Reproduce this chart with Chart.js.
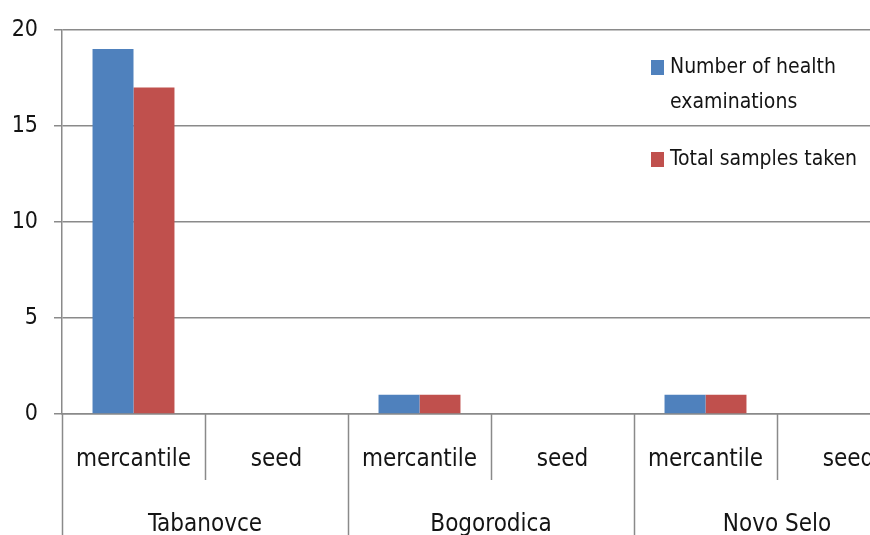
<!DOCTYPE html>
<html>
<head>
<meta charset="utf-8">
<script src="https://cdn.jsdelivr.net/npm/chart.js@4"></script>
<style>
  html, body { margin: 0; padding: 0; background: #fff; overflow: hidden; }
  canvas { display: block; }
</style>
</head>
<body>
<canvas id="chart" width="930" height="535"></canvas>
<script>
// categorias e grupos
const categories = ['mercantile', 'seed', 'mercantile', 'seed', 'mercantile', 'seed'];
const groups = ['Tabanovce', 'Bogorodica', 'Novo Selo'];

// valores das series
const healthExams = [19, 0, 1, 0, 1, 0];
const samplesTaken = [17, 0, 1, 0, 1, 0];
const seriesNames = [['Number of health', 'examinations'], ['Total samples taken']];

// eixo y
const yTicks = [0, 5, 10, 15, 20];

const blue = '#4F81BD';
const red = '#C0504D';
const lineColor = '#8a8a8a';
const textColor = '#141414';
const fontFamily = '"Liberation Sans Narrow", "DejaVu Sans Condensed", sans-serif';

// separadores do eixo x + legenda desenhada por cima
const axisDecor = {
  id: 'axisDecor',
  afterDraw(chart) {
    const c = chart.ctx;
    const xs = chart.scales.x;
    const step = xs.getPixelForValue(1) - xs.getPixelForValue(0);
    const bottom = chart.chartArea.bottom;
    c.save();
    c.strokeStyle = lineColor;
    c.lineWidth = 1.5;
    for (let i = 0; i <= categories.length; i++) {
      const x = Math.round(xs.getPixelForValue(i) - step / 2) + 0.5;
      c.beginPath();
      c.moveTo(x, bottom);
      c.lineTo(x, i % 2 === 0 ? chart.height : bottom + 66);
      c.stroke();
    }

    // legenda
    c.font = '21px ' + fontFamily;
    c.textBaseline = 'middle';
    const lx = 651, rows = [68, 160];
    chart.data.datasets.forEach((ds, i) => {
      c.fillStyle = ds.backgroundColor;
      c.fillRect(lx, rows[i] - 8, 13, 15);
      c.fillStyle = textColor;
      seriesNames[i].forEach((line, j) => {
        c.fillText(line, lx + 19, rows[i] + j * 35);
      });
    });
    c.restore();
  }
};

const ctx = document.getElementById('chart').getContext('2d');
new Chart(ctx, {
  type: 'bar',
  data: {
    labels: categories,
    datasets: [
      { label: seriesNames[0].join(' '), data: healthExams, backgroundColor: blue },
      { label: seriesNames[1].join(' '), data: samplesTaken, backgroundColor: red }
    ]
  },
  options: {
    responsive: false,
    animation: false,
    devicePixelRatio: 1,
    layout: { padding: { top: 23, right: 10, left: 0, bottom: 0 } },
    datasets: { bar: { categoryPercentage: 0.573, barPercentage: 1.0, borderWidth: 0 } },
    plugins: { legend: { display: false }, tooltip: { enabled: false } },
    scales: {
      x: {
        grid: { display: false },
        border: { display: true, color: lineColor, width: 1.5 },
        ticks: {
          padding: 23,
          color: textColor,
          font: { family: fontFamily, size: 24 },
          maxRotation: 0,
          autoSkip: false
        },
        afterFit(scale) { scale.height = 80; }
      },
      x2: {
        type: 'category',
        labels: groups,
        position: 'bottom',
        offset: true,
        grid: { display: false },
        border: { display: false },
        ticks: {
          padding: 8,
          color: textColor,
          font: { family: fontFamily, size: 24 },
          maxRotation: 0,
          autoSkip: false
        },
        afterFit(scale) { scale.height = 41; }
      },
      y: {
        min: 0,
        max: 20,
        afterBuildTicks(scale) { scale.ticks = yTicks.map(v => ({ value: v })); },
        grid: { color: lineColor, lineWidth: 1.5, tickLength: 8 },
        border: { display: true, color: lineColor, width: 1.5 },
        ticks: {
          padding: 16,
          color: textColor,
          font: { family: fontFamily, size: 23 }
        },
        afterFit(scale) { scale.width = 62; }
      }
    }
  },
  plugins: [axisDecor]
});
</script>
</body>
</html>
